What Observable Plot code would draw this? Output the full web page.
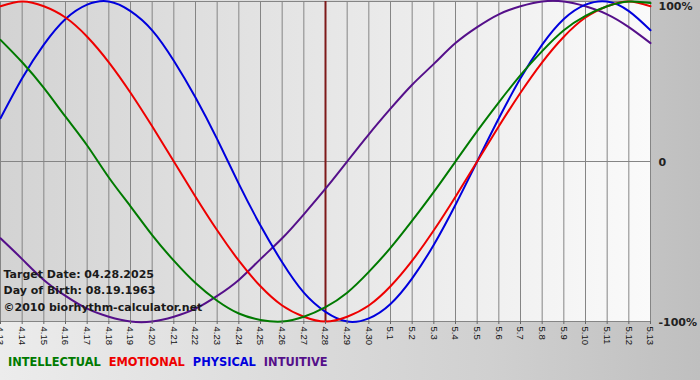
<!DOCTYPE html>
<html><head><meta charset="utf-8">
<script src="https://cdn.jsdelivr.net/npm/d3@7"></script>
<script src="https://cdn.jsdelivr.net/npm/@observablehq/plot@0.6"></script>
<style>
body{margin:0;}
#wrap{position:relative;width:700px;height:380px;background:linear-gradient(to right,#ececec,#d0d0d0 70%,#bfbfbf);overflow:hidden;font-family:"DejaVu Sans",sans-serif;}
#legend{position:absolute;left:8px;top:355px;font-weight:bold;font-size:11.4px;white-space:nowrap;}
#legend span{margin-right:8px}
</style></head>
<body><div id="wrap"><div id="chart"></div><div id="legend"></div></div>
<script>
const dayLabels = ["4.13","4.14","4.15","4.16","4.17","4.18","4.19","4.20","4.21","4.22","4.23","4.24","4.25","4.26","4.27","4.28","4.29","4.30","5.1","5.2","5.3","5.4","5.5","5.6","5.7","5.8","5.9","5.10","5.11","5.12","5.13"];
const intellectual = [0.76,0.62,0.46,0.28,0.10,-0.10,-0.28,-0.46,-0.62,-0.76,-0.87,-0.95,-0.99,-1.00,-0.97,-0.91,-0.82,-0.69,-0.54,-0.37,-0.19,0.00,0.19,0.37,0.54,0.69,0.82,0.91,0.97,1.00,0.99];
const emotional = [0.97,1.00,0.97,0.90,0.78,0.62,0.43,0.22,0.00,-0.22,-0.43,-0.62,-0.78,-0.90,-0.97,-1.00,-0.97,-0.90,-0.78,-0.62,-0.43,-0.22,0.00,0.22,0.43,0.62,0.78,0.90,0.97,1.00,0.97];
const physical = [0.27,0.52,0.73,0.89,0.98,1.00,0.94,0.82,0.63,0.40,0.14,-0.14,-0.40,-0.63,-0.82,-0.94,-1.00,-0.98,-0.89,-0.73,-0.52,-0.27,0.00,0.27,0.52,0.73,0.89,0.98,1.00,0.94,0.82];
const intuitive = [-0.48,-0.61,-0.74,-0.84,-0.92,-0.97,-1.00,-1.00,-0.97,-0.92,-0.84,-0.74,-0.61,-0.48,-0.33,-0.17,0.00,0.17,0.33,0.48,0.61,0.74,0.84,0.92,0.97,1.00,1.00,0.97,0.92,0.84,0.74];
const seriesNames = ["INTELLECTUAL","EMOTIONAL","PHYSICAL","INTUITIVE"];
const seriesColors = ["#007a00","#ee0000","#0000dd","#55108a"];
const yTicks = [-100,0,100];
const targetLabel = "4.28";
const infoLines = ["Target Date: 04.28.2025","Day of Birth: 08.19.1963","©2010 biorhythm-calculator.net"];

const series = [intellectual, emotional, physical, intuitive];
const idx = dayLabels.map((d,i)=>i);
const targetIndex = dayLabels.indexOf(targetLabel);
const yFmt = d => d===0 ? "0" : d+"%";

const H = 352;
const chart = Plot.plot({
  width: 700, height: H,
  marginTop: 1, marginBottom: H-321, marginLeft: 0, marginRight: 50,
  style: {background:"transparent", fontFamily:"DejaVu Sans", overflow:"visible"},
  x: {type:"linear", domain:[0, idx.length-1]},
  y: {domain:[-100,100]},
  marks: [
    Plot.frame({fill:"url(#plotbg)", stroke:"none"}),
    Plot.ruleX(idx, {x: d=>d, stroke:"#858585", strokeWidth:1, strokeOpacity:1}),
    Plot.ruleY(yTicks, {y: d=>d, stroke:"#858585", strokeWidth:1}),
    Plot.ruleX([targetIndex], {x: d=>d, stroke:"#7e1a1a", strokeWidth:2}),
    ...series.map((s,k)=>Plot.line(s, {x:(d,i)=>i, y:d=>d*100, stroke:seriesColors[k], strokeWidth:2, curve:"natural"})).reverse(),
    Plot.text([infoLines.join("\n")], {frameAnchor:"bottom-left", dx:3, dy:-11, lineAnchor:"bottom", lineHeight:1.5, fontSize:11, fontWeight:"bold", fill:"#1a1a1a", textAnchor:"start"}),
    Plot.axisX({ticks: idx, tickFormat: i=>dayLabels[i], tickRotate: 90, tickSize: 3, tickPadding: 2, fontSize: 9.5, fontFamily:"Liberation Sans", stroke:"#666", fill:"#111", label:null}),
    Plot.axisY({anchor:"right", ticks: yTicks.filter(d=>d>0), tickFormat: yFmt, tickSize:0, tickPadding:8, dy:5, fontSize:11, fontWeight:"bold", fill:"#222", label:null}),
    Plot.axisY({anchor:"right", ticks: yTicks.filter(d=>d<=0), tickFormat: yFmt, tickSize:0, tickPadding:8, dy:1, fontSize:11, fontWeight:"bold", fill:"#222", label:null})
  ]
});
const defs = document.createElementNS("http://www.w3.org/2000/svg","defs");
defs.innerHTML = '<linearGradient id="plotbg" x1="0" x2="1" y1="0" y2="0"><stop offset="0" stop-color="#d3d3d3"/><stop offset="1" stop-color="#fafafa"/></linearGradient>';
chart.insertBefore(defs, chart.firstChild);
document.getElementById("chart").appendChild(chart);
const leg = document.getElementById("legend");
seriesNames.forEach((n,k)=>{const s=document.createElement("span"); s.textContent=n; s.style.color=seriesColors[k]; leg.appendChild(s);});
</script>
</body></html>
